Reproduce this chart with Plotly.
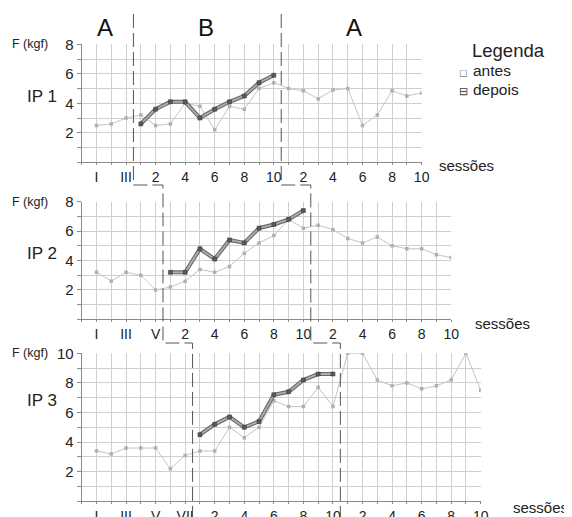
import plotly.graph_objects as go

# ---------------- data ----------------
ip1_antes_A1 = [2.5, 2.6, 3.0]
ip1_antes_B = [3.2, 2.5, 2.6, 4.0, 3.8, 2.2, 3.8, 3.6, 5.0, 5.4]
ip1_antes_A2 = [5.0, 4.85, 4.3, 4.9, 5.0, 2.5, 3.2, 4.85, 4.5, 4.7]
ip1_depois_B = [2.6, 3.6, 4.1, 4.1, 3.0, 3.6, 4.1, 4.5, 5.4, 5.9]

ip2_antes_A1 = [3.2, 2.6, 3.2, 3.0, 2.0]
ip2_antes_B = [2.2, 2.6, 3.4, 3.2, 3.6, 4.5, 5.2, 5.7, 6.8, 6.2]
ip2_antes_A2 = [6.4, 6.1, 5.5, 5.2, 5.6, 5.0, 4.8, 4.8, 4.4, 4.2]
ip2_depois_B = [3.2, 3.2, 4.8, 4.1, 5.4, 5.2, 6.2, 6.45, 6.8, 7.4]

ip3_antes_A1 = [3.4, 3.2, 3.6, 3.6, 3.6, 2.2, 3.1]
ip3_antes_B = [3.4, 3.4, 5.0, 4.3, 5.0, 6.8, 6.4, 6.4, 7.7, 6.4]
ip3_antes_A2 = [10.0, 10.0, 8.2, 7.8, 8.0, 7.6, 7.8, 8.2, 10.0, 7.5]
ip3_depois_B = [4.5, 5.2, 5.7, 5.0, 5.4, 7.2, 7.4, 8.2, 8.6, 8.6]

roman = ["I", "II", "III", "IV", "V", "VI", "VII"]
session_labels = ["", "2", "", "4", "", "6", "", "8", "", "10"]
y_max = [8, 8, 10]
panel_names = ["IP 1", "IP 2", "IP 3"]
phase_names = ["A", "B", "A"]
legend_title = "Legenda"
legend_items = ["antes", "depois"]
legend_icons = ["□", "⊟"]

# ---------------- layout geometry (pixels, in screen coords) ----------------
W, H = 572, 517
OFF = 8  # page body margin
LEFT = 81.7
UNIT = 14.78
panel_px = [(44.3, 162.3), (201.7, 319.4), (353.3, 501.3)]  # top, bottom
FONT = "Liberation Sans, Arial, sans-serif"

def px(x):
    return (x - OFF) / W

def py(y):
    return 1 - (y - OFF) / H

panels = [
    (ip1_antes_A1, ip1_antes_B, ip1_antes_A2, ip1_depois_B),
    (ip2_antes_A1, ip2_antes_B, ip2_antes_A2, ip2_depois_B),
    (ip3_antes_A1, ip3_antes_B, ip3_antes_A2, ip3_depois_B),
]

fig = go.Figure()
layout = dict(
    width=W, height=H, margin=dict(l=0, r=0, t=0, b=0, autoexpand=False),
    paper_bgcolor="white", plot_bgcolor="white", showlegend=False,
    font=dict(family=FONT, color="#222"),
)

annotations = []
shapes = []
bounds = []

for i, (a1, b, a2, dep) in enumerate(panels):
    k = "" if i == 0 else str(i + 1)
    xa, ya = "x" + k, "y" + k
    antes = a1 + b + a2
    n = len(antes)
    xs = list(range(1, n + 1))
    xd = list(range(len(a1) + 1, len(a1) + len(dep) + 1))
    bounds.append((len(a1) + 0.5, len(a1) + len(b) + 0.5))

    fig.add_trace(go.Scatter(x=xs, y=antes, mode="lines+markers", xaxis=xa, yaxis=ya,
                             line=dict(color="#c4c4c4", width=1),
                             marker=dict(symbol="square", size=3.5, color="#b0b0b0")))
    fig.add_trace(go.Scatter(x=xd, y=dep, mode="lines", xaxis=xa, yaxis=ya,
                             line=dict(color="#6a6a6a", width=4)))
    fig.add_trace(go.Scatter(x=xd, y=dep, mode="lines+markers", xaxis=xa, yaxis=ya,
                             line=dict(color="#adadad", width=1.8),
                             marker=dict(symbol="square", size=4, color="#5a5a5a",
                                         line=dict(color="#333", width=0.5))))

    labels = [""] + roman[:len(a1)] + session_labels + session_labels
    labels = [l if l in ("I", "III", "V", "VII") or l.isdigit() or l == "" else "" for l in labels]
    top, bot = panel_px[i]
    layout["xaxis" + k] = dict(
        domain=[px(LEFT), px(LEFT + n * UNIT)], range=[0, n], anchor=ya,
        tickvals=list(range(0, n + 1)), ticktext=labels, automargin=False,
        showgrid=True, gridcolor="#cfcfcf", gridwidth=1, zeroline=False,
        showline=True, linecolor="#8a8a8a", linewidth=1,
        ticks="outside", ticklen=2, tickcolor="#8a8a8a",
        tickfont=dict(size=14, color="#222", family=FONT),
    )
    ym = y_max[i]
    layout["yaxis" + k] = dict(
        domain=[py(bot), py(top)], range=[0, ym], anchor=xa, automargin=False,
        tickvals=list(range(0, ym + 1)),
        ticktext=[str(v) if v % 2 == 0 and v > 0 else "" for v in range(0, ym + 1)],
        showgrid=True, gridcolor="#cfcfcf", gridwidth=1, zeroline=False,
        showline=True, linecolor="#8a8a8a", linewidth=1,
        ticks="outside", ticklen=4, tickcolor="#8a8a8a",
        tickfont=dict(size=15, color="#222", family=FONT),
    )
    # side texts
    annotations.append(dict(text="F (kgf)", x=px(30), y=py(top), xref="paper", yref="paper",
                            showarrow=False, xanchor="center", yanchor="middle",
                            font=dict(size=12.5, color="#222")))
    annotations.append(dict(text=panel_names[i], x=px(42), y=py(top + 52 if i < 2 else top + 47),
                            xref="paper", yref="paper", showarrow=False,
                            xanchor="center", yanchor="middle", font=dict(size=17, color="#222")))

sess_pos = [(467, 165), (502, 323), (540, 507)]
for sx, sy in sess_pos:
    annotations.append(dict(text="sessões", x=px(sx), y=py(sy), xref="paper", yref="paper",
                            showarrow=False, xanchor="center", yanchor="middle",
                            font=dict(size=15, color="#222")))

# phase headers
for name, cx in zip(phase_names, [104.5, 206, 354]):
    annotations.append(dict(text=name, x=px(cx), y=py(27), xref="paper", yref="paper",
                            showarrow=False, xanchor="center", yanchor="middle",
                            font=dict(size=24, color="#111")))

# legend
annotations.append(dict(text=legend_title, x=px(470), y=py(51), xref="paper", yref="paper",
                        showarrow=False, xanchor="left", yanchor="middle",
                        font=dict(size=18.5, color="#222")))
for j, (icon, item) in enumerate(zip(legend_icons, legend_items)):
    annotations.append(dict(text=icon, x=px(463), y=py(73 + 18 * j), xref="paper", yref="paper",
                            showarrow=False, xanchor="center", yanchor="middle",
                            font=dict(size=11, color="#444")))
    annotations.append(dict(text=item, x=px(471), y=py(71 + 18 * j), xref="paper", yref="paper",
                            showarrow=False, xanchor="left", yanchor="middle",
                            font=dict(size=15.5, color="#222")))

# phase change dashed brackets
ys_join = [185, 343]
for side in range(2):
    xb = [bounds[p][side] for p in range(3)]
    path = f"M {xb[0]},{py(14)} L {xb[0]},{py(ys_join[0])} L {xb[1]},{py(ys_join[0])} " \
           f"L {xb[1]},{py(ys_join[1])} L {xb[2]},{py(ys_join[1])} L {xb[2]},{py(525)}"
    shapes.append(dict(type="path", path=path, xref="x3", yref="paper",
                       line=dict(color="#555", width=1, dash="14px,5px")))

layout["annotations"] = annotations
layout["shapes"] = shapes
fig.update_layout(**layout)
fig.write_html("out.html")
